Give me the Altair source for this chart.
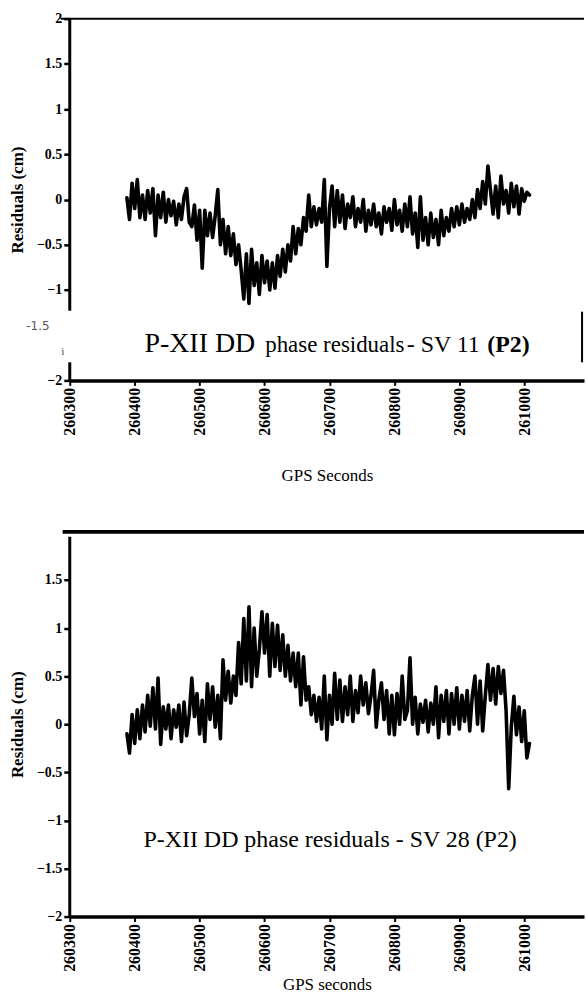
import altair as alt
import pandas as pd

# ---------------- data ----------------
T0 = 260388          # first GPS second of both series
STEP = 4             # sampling step (s) used for the transcription

sv11 = [0.02, -0.22, 0.18, -0.1, 0.22, -0.2, 0.05, -0.22, 0.1, -0.15,
        0.12, -0.4, 0.05, -0.2, 0.08, -0.25, 0.0, -0.18, -0.02, -0.28,
        -0.05, -0.22, 0.03, 0.12, -0.25, -0.3, -0.06, -0.45, -0.12, -0.76,
        -0.12, -0.4, -0.15, -0.42, -0.18, 0.11, -0.5, -0.22, -0.6, -0.3,
        -0.62, -0.38, -0.72, -0.5, -0.78, -1.1, -0.6, -1.15, -0.55, -0.95,
        -0.7, -1.05, -0.62, -0.92, -0.68, -1.0, -0.7, -0.98, -0.62, -0.85,
        -0.55, -0.8, -0.5, -0.68, -0.3, -0.6, -0.32, -0.5, -0.2, -0.35,
        0.05, -0.3, -0.08, -0.28, -0.1, -0.25, 0.22, -0.74, -0.1, 0.15,
        -0.3, 0.1, -0.25, 0.05, -0.32, -0.05, -0.2, 0.03, -0.3, -0.1,
        -0.25, 0.0, -0.35, -0.12, -0.28, -0.05, -0.3, -0.15, -0.38, -0.08,
        -0.25, -0.1, -0.34, 0.0, -0.28, -0.12, -0.35, -0.05, -0.3, 0.03,
        -0.38, -0.15, -0.53, 0.03, -0.45, -0.2, -0.5, -0.15, -0.42, -0.22,
        -0.5, -0.12, -0.4, -0.2, -0.35, -0.1, -0.3, -0.08, -0.28, -0.05,
        -0.25, -0.1, -0.22, 0.0, -0.2, 0.11, -0.1, 0.2, -0.05, 0.37,
        0.1, -0.16, 0.15, -0.2, 0.26, -0.05, 0.1, -0.15, 0.18, -0.08,
        0.15, -0.16, 0.12, -0.02, 0.08, 0.05]

sv28 = [-0.1, -0.3, 0.1, -0.2, 0.15, -0.15, 0.2, -0.08, 0.3, -0.02,
        0.38, -0.05, 0.48, -0.21, 0.18, -0.05, 0.2, -0.15, 0.15, -0.03,
        0.2, -0.18, 0.23, -0.12, 0.1, 0.48, 0.08, 0.32, -0.1, 0.25,
        -0.18, 0.42, 0.05, 0.39, -0.03, 0.3, -0.15, 0.67, 0.25, 0.55,
        0.22, 0.5, 0.3, 0.85, 0.42, 1.1, 0.45, 1.22, 0.39, 1.0,
        0.5, 0.78, 1.17, 0.74, 1.14, 0.5, 1.05, 0.6, 1.03, 0.56,
        0.93, 0.5, 0.82, 0.45, 0.74, 0.39, 0.74, 0.2, 0.7, 0.25,
        0.39, 0.1, 0.3, 0.03, 0.28, -0.05, 0.5, -0.16, 0.3, 0.0,
        0.53, 0.05, 0.46, 0.03, 0.39, 0.1, 0.5, 0.03, 0.35, 0.12,
        0.5, 0.2, 0.43, 0.11, 0.3, 0.56, -0.03, 0.25, 0.43, 0.05,
        0.35, -0.1, 0.3, -0.11, 0.32, 0.0, 0.5, 0.05, 0.14, 0.69,
        0.0, 0.28, -0.1, 0.21, 0.02, 0.25, -0.08, 0.22, 0.0, 0.39,
        -0.14, 0.3, 0.03, 0.35, -0.1, 0.32, 0.0, 0.38, -0.05, 0.3,
        0.03, 0.35, -0.07, 0.3, 0.5, 0.0, 0.45, -0.07, 0.3, 0.62,
        0.25, 0.58, 0.21, 0.6, 0.32, 0.56, 0.14, -0.67, -0.03, 0.29,
        -0.11, 0.18, -0.18, 0.14, -0.35, -0.2]

x_ticks = [260300, 260400, 260500, 260600, 260700, 260800, 260900, 261000]
y_ticks_top = [2, 1.5, 1, 0.5, 0, -0.5, -1, -2]
y_ticks_bottom = [1.5, 1, 0.5, 0, -0.5, -1, -1.5, -2]

title_top_parts = ["P-XII DD", "phase residuals", "- SV 11", "(P2)"]
title_bottom = "P-XII DD phase residuals - SV 28 (P2)"

# ---------------- styling ----------------
SERIF = "Liberation Serif"
XDOM = [260300, 261092]
W = 516
H1 = 363
H2 = 386


def df_series(vals):
    return pd.DataFrame({"t": [T0 + STEP * i for i in range(len(vals))], "v": vals})


def x_enc(title, tsize, tpad, ext):
    return alt.X("t:Q", scale=alt.Scale(domain=XDOM, nice=False, zero=False),
                 axis=alt.Axis(values=x_ticks, format="d", labelAngle=270,
                               labelFont=SERIF, labelFontSize=16, labelFontWeight="bold",
                               labelColor="black", labelPadding=2,
                               tickSize=5, tickWidth=2, tickColor="black",
                               domainColor="black", domainWidth=3.5, grid=False,
                               title=title, titleFont=SERIF, titleFontSize=tsize,
                               titleFontWeight="normal", titleColor="black",
                               titlePadding=tpad, minExtent=ext, maxExtent=ext,
                               labelOverlap=False))


def y_enc(values):
    return alt.Y("v:Q", scale=alt.Scale(domain=[-2, 2], nice=False, zero=False),
                 axis=alt.Axis(values=values, format="~g", labelFont=SERIF, labelFontSize=14,
                               labelFontWeight="bold", labelColor="black", labelPadding=2,
                               tickSize=6, tickWidth=2.5, tickColor="black",
                               domain=False, grid=False,
                               title="Residuals (cm)", titleFont=SERIF, titleFontSize=17,
                               titleFontWeight="bold", titleColor="black",
                               titlePadding=13, minExtent=30, maxExtent=30,
                               labelOverlap=False))


def rule(rows, width, xe, ye):
    return alt.Chart(pd.DataFrame(rows)).mark_rule(color="black", strokeWidth=width).encode(
        x=xe, x2="t2:Q", y=ye, y2="v2:Q")


LINE = dict(color="black", strokeWidth=3.6, strokeJoin="round", strokeCap="round")

# ---------------- top panel ----------------
xt = x_enc("GPS Seconds", 17, 17, 70)
yt = y_enc(y_ticks_top)

top_line = alt.Chart(df_series(sv11)).mark_line(**LINE).encode(x=xt, y=yt)
top_frame = rule([{"t": 260286, "t2": XDOM[1], "v": 2, "v2": 2}], 2, xt, yt)
top_left = rule([{"t": 260300, "t2": 260300, "v": 2, "v2": -1.23},
                 {"t": 260300, "t2": 260300, "v": -1.8, "v2": -2}], 3, xt, yt)
top_right = rule([{"t": 261089, "t2": 261089, "v": -1.24, "v2": -1.8}], 2, xt, yt)

ann_top = pd.DataFrame({"t": [260415, 260601, 260819, 260943], "v": [-1.69] * 4,
                        "txt": title_top_parts})
tt1 = alt.Chart(ann_top.iloc[[0]]).mark_text(align="left", baseline="alphabetic", font=SERIF,
                                             fontSize=28, color="black").encode(x=xt, y=yt, text="txt:N")
tt2 = alt.Chart(ann_top.iloc[[1]]).mark_text(align="left", baseline="alphabetic", font=SERIF,
                                             fontSize=23, color="black").encode(x=xt, y=yt, text="txt:N")
tt3 = alt.Chart(ann_top.iloc[[2]]).mark_text(align="left", baseline="alphabetic", font=SERIF,
                                             fontSize=24, color="black").encode(x=xt, y=yt, text="txt:N")
tt4 = alt.Chart(ann_top.iloc[[3]]).mark_text(align="left", baseline="alphabetic", font=SERIF,
                                             fontSize=24, fontWeight="bold", color="black").encode(x=xt, y=yt, text="txt:N")

stray = pd.DataFrame({"v": [-1.40, -1.69], "txt": ["-1.5", "i"]})
gray_lab = alt.Chart(stray.iloc[[0]]).mark_text(font="DejaVu Sans", fontSize=12, color="#555555").encode(
    x=alt.value(-32), y=yt, text="txt:N")
i_lab = alt.Chart(stray.iloc[[1]]).mark_text(font=SERIF, fontSize=10, color="#333333").encode(
    x=alt.value(-7), y=yt, text="txt:N")

top = alt.layer(top_line, top_frame, top_left, top_right, tt1, tt2, tt3, tt4, gray_lab, i_lab).properties(
    width=W, height=H1)

# ---------------- bottom panel ----------------
xb = x_enc("GPS seconds", 17, 3, 57)
yb = y_enc(y_ticks_bottom)

bot_line = alt.Chart(df_series(sv28)).mark_line(**LINE).encode(x=xb, y=yb)
bot_frame = rule([{"t": 260289, "t2": XDOM[1], "v": 2, "v2": 2}], 4, xb, yb)
bot_left = rule([{"t": 260300, "t2": 260300, "v": 1.95, "v2": -2}], 3, xb, yb)

ann_bot = pd.DataFrame({"t": [260701], "v": [-1.2], "txt": [title_bottom]})
bt = alt.Chart(ann_bot).mark_text(align="center", baseline="middle", font=SERIF, fontSize=24,
                                  color="black").encode(x=xb, y=yb, text="txt:N")

bottom = alt.layer(bot_line, bot_frame, bot_left, bt).properties(width=W, height=H2)

chart = alt.vconcat(top, bottom, spacing=47).properties(
    padding={"left": 9, "top": 10, "right": 0, "bottom": 0},
    background="white",
).configure_view(stroke=None)

chart.save("out.html", embed_options={"renderer": "svg", "actions": False})
